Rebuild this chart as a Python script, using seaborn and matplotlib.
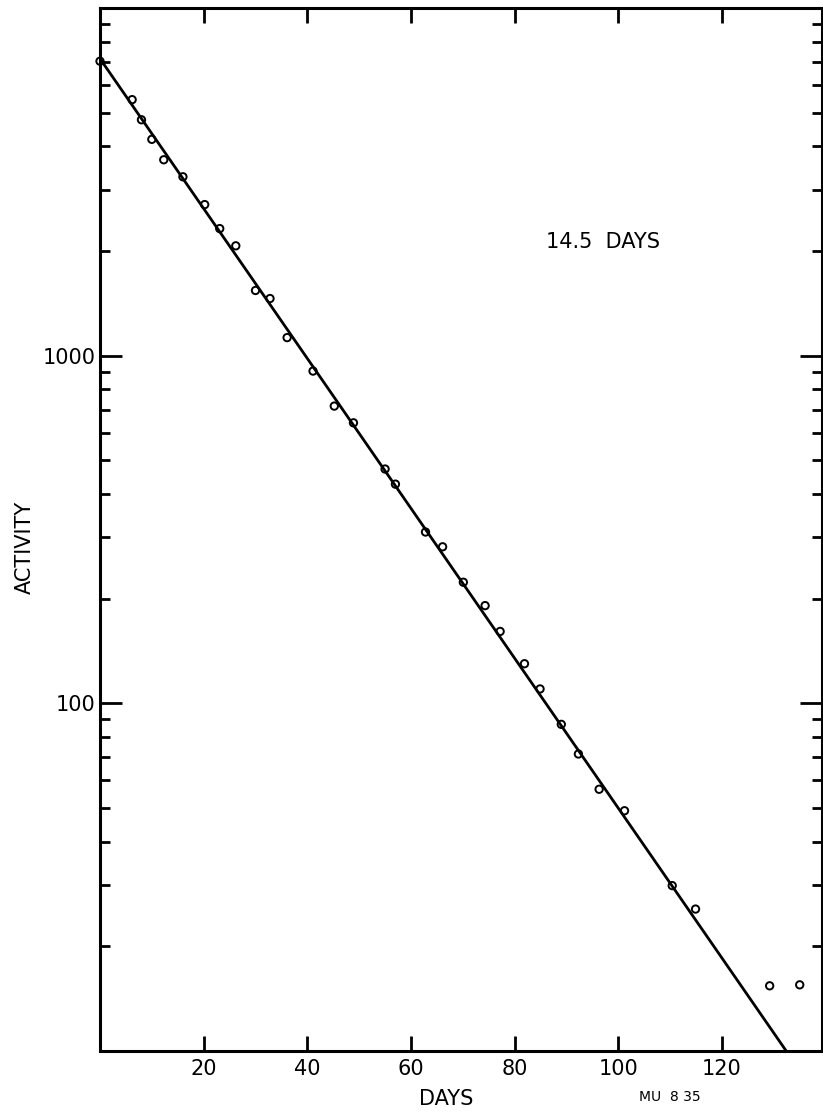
import matplotlib
matplotlib.use('Agg')
import matplotlib.pyplot as plt
import seaborn as sns
from matplotlib.ticker import LogLocator, NullFormatter, FixedLocator

# measured decay points (days, activity)
days = [0, 6.2, 8.0, 10.0, 12.3, 16.0, 20.2, 23.1, 26.2, 30.0, 32.8, 36.1,
        41.1, 45.2, 48.9, 55.0, 57.0, 62.8, 66.1, 70.1, 74.3, 77.2, 81.9,
        84.9, 89.0, 92.3, 96.3, 101.2, 110.4, 114.9, 129.2, 135.0]
activity = [7030, 5450, 4770, 4190, 3660, 3270, 2720, 2320, 2070, 1540, 1460, 1127,
            903, 716, 641, 472, 427, 311, 282, 223, 191, 161, 130,
            110, 87, 71.5, 56.6, 49.1, 29.9, 25.6, 15.4, 15.5]

# fitted straight line (14.5 day half-life)
fit_days = [0, 132.4]
fit_activity = [7150, 10]

x_ticks = [20, 40, 60, 80, 100, 120]
x_labels = ['20', '40', '60', '80', '100', '120']
y_ticks = [100, 1000]
y_labels = ['100', '1000']

sns.set_style('ticks', {'axes.edgecolor': 'black', 'text.color': 'black',
                        'xtick.color': 'black', 'ytick.color': 'black',
                        'axes.labelcolor': 'black'})
plt.rcParams['font.family'] = ['DejaVu Sans']

fig = plt.figure(figsize=(8.23, 11.14), dpi=100)
W, H = 823, 1114
ax = fig.add_axes([100 / W, (H - 1051) / H, 722 / W, (1051 - 8) / H])

sns.lineplot(x=fit_days, y=fit_activity, color='black', linewidth=2.0, ax=ax)
sns.scatterplot(x=days, y=activity, marker='o', s=28, facecolors='none',
                edgecolor='black', linewidth=1.4, ax=ax, zorder=3, clip_on=False)

ax.set_yscale('log')
ax.set_xlim(0, 139.3)
ax.set_ylim(10, 10000)

ax.xaxis.set_major_locator(FixedLocator(x_ticks))
ax.set_xticklabels(x_labels)
ax.yaxis.set_major_locator(FixedLocator(y_ticks))
ax.set_yticklabels(y_labels)
ax.yaxis.set_minor_locator(LogLocator(base=10, subs=[2, 3, 4, 5, 6, 7, 8, 9]))
ax.yaxis.set_minor_formatter(NullFormatter())
ax.xaxis.set_minor_locator(FixedLocator([]))

ax.tick_params(axis='x', which='major', direction='in', top=True, bottom=True,
               length=11, width=2, labelsize=15, pad=6, colors='black')
ax.tick_params(axis='y', which='major', direction='in', left=True, right=True,
               length=16, width=2, labelsize=15, pad=3, colors='black')
ax.tick_params(axis='y', which='minor', direction='in', left=True, right=True,
               length=7, width=2, colors='black')

for side in ['left', 'bottom', 'top', 'right']:
    ax.spines[side].set_linewidth(2.2)
    ax.spines[side].set_color('black')

ax.set_xlabel('DAYS', fontsize=15, color='black')
ax.xaxis.set_label_coords((446 - 100) / 722, -0.036)
ax.set_ylabel('ACTIVITY', fontsize=15, color='black')
ax.yaxis.set_label_coords(-0.09, (1051 - 547) / 1043)

fig.text(603 / W, 1 - 242 / H, '14.5  DAYS', fontsize=15, ha='center', va='center',
         color='black')
fig.text(670 / W, 1 - 1097 / H, 'MU  8 35', fontsize=10, ha='center', va='center',
         color='black')

fig.savefig('out.png', dpi=100)
